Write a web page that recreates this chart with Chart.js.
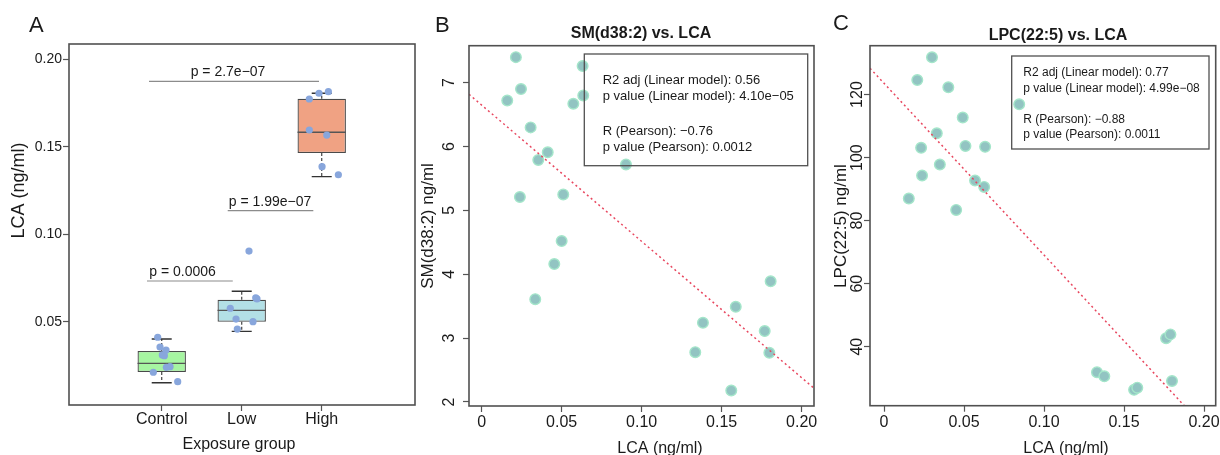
<!DOCTYPE html>
<html><head><meta charset="utf-8">
<script src="https://cdn.jsdelivr.net/npm/chart.js@4.4.1/dist/chart.umd.min.js"></script>
<style>
html,body{margin:0;padding:0;background:#fff;}
#wrap{position:relative;width:1220px;height:455px;overflow:hidden;background:#fff;}
canvas{position:absolute;left:0;top:0;width:1220px;height:455px;}
</style></head><body>
<div id="wrap">
<canvas id="cA" width="1220" height="455"></canvas>
<canvas id="cB" width="1220" height="455"></canvas>
<canvas id="cC" width="1220" height="455"></canvas>
</div>
<script>
// ---------------- DATA ----------------
// Panel A: box plot of LCA by exposure group
const groups = ['Control', 'Low', 'High'];
const groupPos = [1, 2, 3];
const boxQ1 = [0.0212, 0.0500, 0.1464];
const boxMedian = [0.0262, 0.0565, 0.1583];
const boxQ3 = [0.0333, 0.0626, 0.1775];
const whiskerLow = [0.0151, 0.0445, 0.1329];
const whiskerHigh = [0.0401, 0.0674, 0.1806];
const controlLCA = [0.0411, 0.0355, 0.0338, 0.0310, 0.0306, 0.0243, 0.0239, 0.0211, 0.0157];
const controlJitter = [-0.05, -0.021, 0.054, 0.008, 0.033, 0.104, 0.058, -0.105, 0.2];
const lowLCA = [0.0904, 0.0637, 0.0630, 0.0577, 0.0515, 0.0500, 0.0458];
const lowJitter = [0.091, 0.175, 0.191, -0.143, -0.071, 0.141, -0.055];
const highLCA = [0.1773, 0.1806, 0.1815, 0.1596, 0.1567, 0.1386, 0.1340];
const highJitter = [-0.155, -0.034, 0.083, -0.155, 0.063, 0.004, 0.208];
const sigLabels = ['p = 2.7e\u221207', 'p = 1.99e\u221207', 'p = 0.0006'];
const sigY = [0.1874, 0.1135, 0.0733];
const sigFrom = [0.841, 1.825, 0.816];
const sigTo = [2.966, 2.895, 1.888];
const sigTextX = [1.829, 2.354, 1.26];
const aYTicks = [0.05, 0.10, 0.15, 0.20];

// Panel B: SM(d38:2) vs LCA
const smLCA = [0.0214,0.0631,0.0246,0.0160,0.0573,0.0635,0.0306,0.0413,0.0354,0.0902,0.0239,0.0510,0.0500,0.0454,0.0335,0.1806,0.1588,0.1383,0.1769,0.1335,0.1798,0.1560];
const smValue = [7.40,7.26,6.90,6.72,6.67,6.80,6.30,5.91,5.79,5.72,5.21,5.25,4.52,4.16,3.61,3.89,3.49,3.24,3.11,2.78,2.77,2.18];
const smFitX = [-0.0079, 0.2077];
const smFitY = [6.818, 2.215];
const smStats = ['R2 adj (Linear model): 0.56', 'p value (Linear model): 4.10e\u221205', 'R (Pearson): \u22120.76', 'p value (Pearson): 0.0012'];
const bYTicks = [2, 3, 4, 5, 6, 7];

// Panel C: LPC(22:5) vs LCA
const lpcLCA = [0.0300,0.0208,0.0402,0.0845,0.0492,0.0330,0.0232,0.0509,0.0632,0.0349,0.0238,0.0569,0.0626,0.0155,0.0451,0.1763,0.1790,0.1331,0.1377,0.1800,0.1563,0.1583];
const lpcValue = [131.8,124.6,122.3,116.9,112.7,107.7,103.1,103.7,103.4,97.8,94.3,92.7,90.7,87.0,83.4,42.7,43.9,31.9,30.6,29.1,26.3,27.0];
const lpcFitX = [-0.00875, 0.1877];
const lpcFitY = [128.35, 21.27];
const lpcStats = ['R2 adj (Linear model): 0.77', 'p value (Linear model): 4.99e\u221208', 'R (Pearson): \u22120.88', 'p value (Pearson): 0.0011'];
const cYTicks = [40, 60, 80, 100, 120];
const lcaTicks = [0, 0.05, 0.10, 0.15, 0.20];

// ---------------- STYLE / LAYOUT ----------------
const FONT = '"Liberation Sans", Arial, Helvetica, sans-serif';
Chart.defaults.font.family = FONT;
Chart.defaults.color = '#1a1a1a';
const W = 1220, H = 455, AXW = 60, AXH = 40;
const FRAME = '#505050';
const BOX_WIDTH = 0.605, CAP_HALF = 0.125;

function layoutFor(a) {
  return { autoPadding: false, padding: { left: a.l - AXW, right: W - a.r, top: a.t, bottom: H - a.b - AXH } };
}
function txt(ctx, s, x, y, size, o) {
  o = o || {};
  ctx.save();
  ctx.font = (o.bold ? 'bold ' : '') + size + 'px ' + FONT;
  ctx.fillStyle = o.color || '#1a1a1a';
  ctx.textAlign = o.align || 'left';
  ctx.textBaseline = o.baseline || 'alphabetic';
  ctx.translate(x, y);
  if (o.rot) ctx.rotate(o.rot);
  ctx.fillText(s, 0, 0);
  ctx.restore();
}
function frame(chart) {
  const ca = chart.chartArea, ctx = chart.ctx;
  ctx.save(); ctx.strokeStyle = FRAME; ctx.lineWidth = 1.6;
  ctx.strokeRect(ca.left, ca.top, ca.right - ca.left, ca.bottom - ca.top);
  ctx.restore();
}
function xScale(min, max, ticks, fmt, size, pad) {
  return {
    type: 'linear', min, max, offset: false, bounds: 'data',
    afterBuildTicks: s => { s.ticks = ticks.map(v => ({ value: v })); },
    afterFit: s => { s.height = AXH; s.paddingLeft = 0; s.paddingRight = 0; },
    ticks: { callback: fmt, font: { size }, padding: pad, color: '#1a1a1a', autoSkip: false, maxRotation: 0, minRotation: 0 },
    grid: { drawOnChartArea: false, drawTicks: true, tickLength: 6, tickColor: '#555', tickWidth: 1.2, offset: false },
    border: { display: false }
  };
}
function yScale(min, max, ticks, fmt, size, tickOpts) {
  return {
    type: 'linear', min, max, bounds: 'data',
    afterBuildTicks: s => { s.ticks = ticks.map(v => ({ value: v })); },
    afterFit: s => { s.width = AXW; s.paddingTop = 0; s.paddingBottom = 0; },
    ticks: Object.assign({ callback: fmt, font: { size }, color: '#1a1a1a', autoSkip: false }, tickOpts),
    grid: { drawOnChartArea: false, drawTicks: true, tickLength: 6, tickColor: '#555', tickWidth: 1.2 },
    border: { display: false }
  };
}
const baseOpts = { responsive: false, maintainAspectRatio: false, animation: false, devicePixelRatio: 1,
  plugins: { legend: { display: false }, tooltip: { enabled: false }, title: { display: false } } };
const lcaFmt = v => v === 0 ? '0' : v.toFixed(2);

// ---------------- PANEL A ----------------
function segments(list) { const out = []; list.forEach(s => { out.push({ x: s[0], y: s[1] }, { x: s[2], y: s[3] }, { x: s[2], y: null }); }); return out; }
const jitterPts = [];
controlLCA.forEach((v, i) => jitterPts.push({ x: groupPos[0] + controlJitter[i], y: v }));
lowLCA.forEach((v, i) => jitterPts.push({ x: groupPos[1] + lowJitter[i], y: v }));
highLCA.forEach((v, i) => jitterPts.push({ x: groupPos[2] + highJitter[i], y: v }));
const half = BOX_WIDTH / 2;
const areaA = { l: 69, t: 44, r: 415, b: 405 };
new Chart(document.getElementById('cA'), {
  type: 'scatter',
  data: { datasets: [
    { type: 'scatter', data: jitterPts, pointRadius: 3.6, pointBackgroundColor: '#88a6dc', pointBorderWidth: 0, order: 0 },
    { type: 'line', data: segments(groupPos.map((p, i) => [p - half, boxMedian[i], p + half, boxMedian[i]])), borderColor: '#555', borderWidth: 1.3, pointRadius: 0, spanGaps: false, order: 1 },
    { type: 'line', data: segments(groupPos.flatMap((p, i) => [[p - CAP_HALF, whiskerHigh[i], p + CAP_HALF, whiskerHigh[i]], [p - CAP_HALF, whiskerLow[i], p + CAP_HALF, whiskerLow[i]]])), borderColor: '#333', borderWidth: 1.3, pointRadius: 0, spanGaps: false, order: 2 },
    { type: 'line', data: segments(groupPos.flatMap((p, i) => [[p, boxQ3[i], p, whiskerHigh[i]], [p, boxQ1[i], p, whiskerLow[i]]])), borderColor: '#444', borderWidth: 1.2, borderDash: [3, 2], pointRadius: 0, spanGaps: false, order: 3 },
    { type: 'bar', data: groupPos.map((p, i) => ({ x: p, y: [boxQ1[i], boxQ3[i]] })), backgroundColor: ['#a6f5a1', '#b3e0e6', '#f0a283'], borderColor: '#4a4a4a', borderWidth: 1.3, borderSkipped: false, categoryPercentage: 1, barPercentage: BOX_WIDTH, order: 4 },
    { type: 'line', data: segments(sigLabels.map((s, i) => [sigFrom[i], sigY[i], sigTo[i], sigY[i]])), borderColor: '#8c8c8c', borderWidth: 1.1, pointRadius: 0, spanGaps: false, order: 5 }
  ] },
  options: Object.assign({}, baseOpts, {
    layout: layoutFor(areaA),
    scales: {
      x: xScale(-0.159, 4.166, groupPos, v => groups[groupPos.indexOf(v)], 16, -1.5),
      y: yScale(0.00238, 0.20875, aYTicks, v => v.toFixed(2), 14, { padding: 1 })
    }
  }),
  plugins: [{ id: 'annA', afterDraw(chart) {
    const ctx = chart.ctx, xs = chart.scales.x, ys = chart.scales.y;
    frame(chart);
    sigLabels.forEach((s, i) => txt(ctx, s, xs.getPixelForValue(sigTextX[i]), ys.getPixelForValue(sigY[i]) - 5, 14, { align: 'center' }));
    txt(ctx, 'A', 29, 31.5, 22);
    txt(ctx, 'Exposure group', 239, 449, 16, { align: 'center' });
    txt(ctx, 'LCA (ng/ml)', 19, 190.5, 18, { align: 'center', baseline: 'middle', rot: -Math.PI / 2 });
  } }]
});

// ---------------- SCATTER PANELS ----------------
function scatterPanel(id, area, xs, ys, fitX, fitY, yTicks, yMin, yMax, yPad, xMin, xMax, ann) {
  new Chart(document.getElementById(id), {
    type: 'scatter',
    data: { datasets: [
      { type: 'line', data: fitX.map((x, i) => ({ x, y: fitY[i] })), borderColor: '#e8475f', borderWidth: 1.5, borderDash: [2, 3], pointRadius: 0, order: 0 },
      { type: 'scatter', data: xs.map((x, i) => ({ x, y: ys[i] })), pointRadius: 5.3, pointBackgroundColor: '#92c4c2', pointBorderColor: '#a4e6ca', pointBorderWidth: 1.4, order: 1 }
    ] },
    options: Object.assign({}, baseOpts, {
      layout: layoutFor(area),
      scales: {
        x: xScale(xMin, xMax, lcaTicks, lcaFmt, 16, 1),
        y: yScale(yMin, yMax, yTicks, v => String(v), 16, { padding: yPad, minRotation: 90, maxRotation: 90, crossAlign: 'center' })
      }
    }),
    plugins: [{ id: 'ann' + id, afterDraw(chart) { frame(chart); ann(chart.ctx); } }]
  });
}
function statBox(ctx, rect, lines, lx, baselines, size) {
  ctx.save(); ctx.strokeStyle = FRAME; ctx.lineWidth = 1.3;
  ctx.strokeRect(rect[0], rect[1], rect[2], rect[3]); ctx.restore();
  lines.forEach((s, i) => txt(ctx, s, lx, baselines[i], size));
}

scatterPanel('cB', { l: 469, t: 45.7, r: 814, b: 406 }, smLCA, smValue, smFitX, smFitY, bYTicks, 1.937, 7.579, 8.5, -0.0079, 0.2077, ctx => {
  txt(ctx, 'B', 435, 31.5, 22);
  txt(ctx, 'SM(d38:2) vs. LCA', 641, 38, 16, { bold: true, align: 'center' });
  txt(ctx, 'LCA (ng/ml)', 660, 453, 16, { align: 'center' });
  txt(ctx, 'SM(d38:2) ng/ml', 428, 226, 17, { align: 'center', baseline: 'middle', rot: -Math.PI / 2 });
  statBox(ctx, [584.3, 54, 223.4, 111.7], smStats, 602.7, [84, 100, 135, 151], 13);
});
scatterPanel('cC', { l: 870, t: 45.7, r: 1215.7, b: 405.7 }, lpcLCA, lpcValue, lpcFitX, lpcFitY, cYTicks, 21.27, 135.5, -6.85, -0.00875, 0.2073, ctx => {
  txt(ctx, 'C', 833, 30, 22);
  txt(ctx, 'LPC(22:5) vs. LCA', 1058, 39.5, 16, { bold: true, align: 'center' });
  txt(ctx, 'LCA (ng/ml)', 1066, 453, 16, { align: 'center' });
  txt(ctx, 'LPC(22:5) ng/ml', 841.5, 226, 17, { align: 'center', baseline: 'middle', rot: -Math.PI / 2 });
  statBox(ctx, [1011.7, 56, 197.3, 93], lpcStats, 1023.3, [76, 91.5, 122.5, 138], 12);
});
</script>
</body></html>
